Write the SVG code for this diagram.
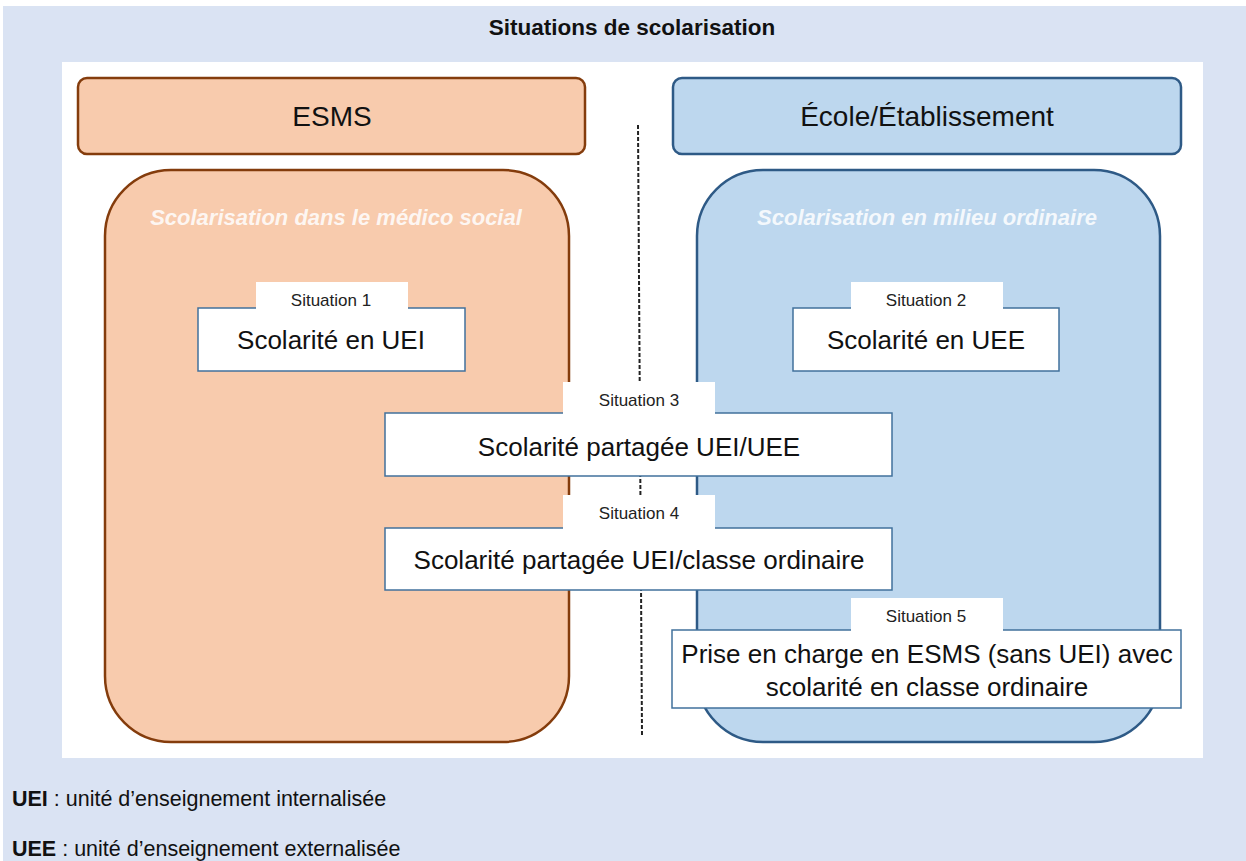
<svg xmlns="http://www.w3.org/2000/svg" width="1246" height="861" viewBox="0 0 1246 861">
<style>
text{font-family:"Liberation Sans",Arial,sans-serif;fill:#111;}
.title{font-size:22.5px;font-weight:bold;text-anchor:middle;}
.head{font-size:28px;text-anchor:middle;}
.sub{font-size:22px;font-weight:bold;font-style:italic;fill:#fff;fill-opacity:0.85;text-anchor:middle;}
.lab{font-size:17px;text-anchor:middle;fill:#222;}
.main{font-size:26px;text-anchor:middle;}
.leg{font-size:21.5px;}
.sit{fill:#fff;stroke:#41719c;stroke-width:1.5;}
.tab{fill:#fff;}
.org{fill:#f8cbad;stroke:#843c0c;stroke-width:2.5;}
.blu{fill:#bdd7ee;stroke:#2e5a86;stroke-width:2.5;}
</style>
<rect x="0" y="0" width="1246" height="861" fill="#fff"/>
<rect x="3" y="6" width="1243" height="855" fill="#dae3f3"/>
<text class="title" x="632" y="35">Situations de scolarisation</text>
<rect x="62" y="62" width="1141" height="696" fill="#fff"/>

<g id="connectors">
<line x1="638" y1="125" x2="642" y2="735" stroke="#222" stroke-width="2" stroke-dasharray="4,2"/>
</g>

<g id="esms-header">
<rect class="org" x="78" y="78" width="507" height="76" rx="9"/>
<text class="head" x="332" y="126" font-size="27">ESMS</text>
</g>
<g id="ecole-header">
<rect class="blu" x="673" y="78" width="508" height="76" rx="9"/>
<text class="head" x="927" y="126" font-size="31">École/Établissement</text>
</g>

<g id="medico-social">
<rect class="org" x="105" y="170" width="464" height="572" rx="66"/>
<text class="sub" x="336" y="225">Scolarisation dans le médico social</text>
</g>
<g id="milieu-ordinaire">
<rect class="blu" x="697" y="170" width="463" height="572" rx="66"/>
<text class="sub" x="927" y="225">Scolarisation en milieu ordinaire</text>
</g>

<g id="situation1">
<rect class="sit" x="198" y="308" width="267" height="63"/>
<rect class="tab" x="256" y="282" width="152" height="27"/>
<text class="lab" x="331" y="306">Situation 1</text>
<text class="main" x="331" y="349">Scolarité en UEI</text>
</g>
<g id="situation2">
<rect class="sit" x="793" y="308" width="266" height="63"/>
<rect class="tab" x="851" y="282" width="152" height="27"/>
<text class="lab" x="926" y="306">Situation 2</text>
<text class="main" x="926" y="349">Scolarité en UEE</text>
</g>
<g id="situation3">
<rect class="sit" x="385" y="413" width="507" height="63"/>
<rect class="tab" x="563" y="382" width="152" height="32"/>
<text class="lab" x="639" y="406">Situation 3</text>
<text class="main" x="639" y="456">Scolarité partagée UEI/UEE</text>
</g>
<g id="situation4">
<rect class="sit" x="385" y="528" width="507" height="62"/>
<rect class="tab" x="563" y="495" width="152" height="34"/>
<text class="lab" x="639" y="519">Situation 4</text>
<text class="main" x="639" y="569">Scolarité partagée UEI/classe ordinaire</text>
</g>
<g id="situation5">
<rect class="sit" x="672" y="630" width="509" height="78"/>
<rect class="tab" x="851" y="598" width="152" height="33"/>
<text class="lab" x="926" y="622">Situation 5</text>
<text class="main" x="927" y="663">Prise en charge en ESMS (sans UEI) avec</text>
<text class="main" x="927" y="696">scolarité en classe ordinaire</text>
</g>

<g id="legend">
<text class="leg" x="12" y="806"><tspan font-weight="bold">UEI</tspan> : unité d’enseignement internalisée</text>
<text class="leg" x="12" y="856"><tspan font-weight="bold">UEE</tspan> : unité d’enseignement externalisée</text>
</g>
</svg>
